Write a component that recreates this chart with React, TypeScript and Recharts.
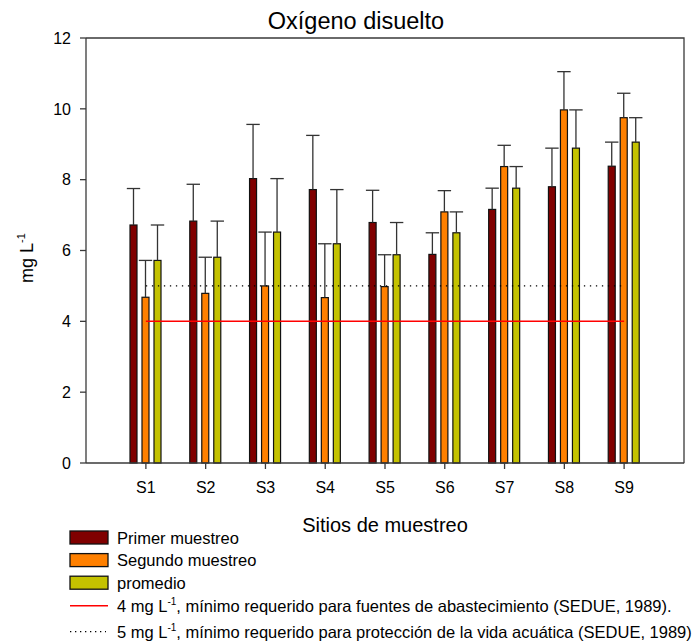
import { Bar, BarChart, ReferenceLine, XAxis, YAxis } from "recharts";

const sites = ["S1", "S2", "S3", "S4", "S5", "S6", "S7", "S8", "S9"];
const primer = [6.72, 6.83, 8.03, 7.72, 6.79, 5.89, 7.16, 7.8, 8.38];
const segundo = [4.68, 4.79, 5.0, 4.67, 4.98, 7.09, 8.37, 9.97, 9.75];
const promedio = [5.72, 5.81, 6.52, 6.19, 5.88, 6.5, 7.76, 8.89, 9.06];
const primerErr = [1.03, 1.04, 1.53, 1.53, 0.91, 0.61, 0.6, 1.09, 0.68];
const segundoErr = [1.04, 1.02, 1.52, 1.52, 0.9, 0.6, 0.6, 1.08, 0.69];
const promedioErr = [1.0, 1.02, 1.51, 1.53, 0.91, 0.59, 0.61, 1.08, 0.69];
const yTicks = [0, 2, 4, 6, 8, 10, 12];

const data = sites.map((site, i) => ({
  site,
  primer: primer[i],
  segundo: segundo[i],
  promedio: promedio[i],
  primerErr: primerErr[i],
  segundoErr: segundoErr[i],
  promedioErr: promedioErr[i],
}));

const FONT = "Arial, 'Liberation Sans', sans-serif";
const AXIS = "#3a3a3a";

// bar + upper error whisker, using the bar's own pixel scale
const barWithError = (key: string, errKey: string) => (props: any) => {
  const { x, y, width, height, fill, payload } = props;
  const v = payload[key];
  const perUnit = v ? height / v : 0;
  const top = y - payload[errKey] * perUnit;
  const cx = x + width / 2;
  return (
    <g>
      <rect x={x} y={y} width={width} height={height} fill={fill} stroke="#111" strokeWidth={1.2} />
      <line x1={cx} x2={cx} y1={y} y2={top} stroke="#333" strokeWidth={1.3} />
      <line x1={cx - 6.7} x2={cx + 6.7} y1={top} y2={top} stroke="#333" strokeWidth={1.3} />
    </g>
  );
};

const legendBars = [
  { label: "Primer muestreo", color: "#800000" },
  { label: "Segundo muestreo", color: "#ff8000" },
  { label: "promedio", color: "#c4c200" },
];

export default function App() {
  return (
    <div style={{ position: "absolute", left: 0, top: 0, width: 694, height: 644, background: "#fff" }}>
      <BarChart
        width={694}
        height={644}
        data={data}
        margin={{ top: 38, right: 10, left: 26, bottom: 151 }}
        barSize={7}
        barGap={5}
      >
        <XAxis
          dataKey="site"
          padding={{ left: 30, right: 30 }}
          height={30}
          tickSize={6}
          tickMargin={13}
          axisLine={{ stroke: AXIS, strokeWidth: 1.3 }}
          tickLine={{ stroke: AXIS, strokeWidth: 1.3 }}
          tick={{ fill: "#000", fontSize: 16, fontFamily: FONT }}
        />
        <YAxis
          domain={[0, 12]}
          ticks={yTicks}
          width={60}
          tickSize={6}
          tickMargin={9}
          axisLine={{ stroke: AXIS, strokeWidth: 1.3 }}
          tickLine={{ stroke: AXIS, strokeWidth: 1.3 }}
          tick={{ fill: "#000", fontSize: 16, fontFamily: FONT }}
        />
        <Bar dataKey="primer" fill="#800000" isAnimationActive={false} shape={barWithError("primer", "primerErr")} />
        <Bar dataKey="segundo" fill="#ff8000" isAnimationActive={false} shape={barWithError("segundo", "segundoErr")} />
        <Bar dataKey="promedio" fill="#c4c200" isAnimationActive={false} shape={barWithError("promedio", "promedioErr")} />
        <ReferenceLine
          segment={[
            { x: "S1", y: 4 },
            { x: "S9", y: 4 },
          ]}
          stroke="#ff0000"
          strokeWidth={1.5}
        />
        <ReferenceLine
          segment={[
            { x: "S1", y: 5 },
            { x: "S9", y: 5 },
          ]}
          stroke="#000"
          strokeWidth={1.3}
          strokeDasharray="1.3 4.7"
        />
      </BarChart>

      <svg
        width={694}
        height={644}
        style={{ position: "absolute", left: 0, top: 0, pointerEvents: "none" }}
        fontFamily={FONT}
      >
        {/* plot frame (top and right edges) */}
        <path d="M86,38 H684 V463.3" fill="none" stroke={AXIS} strokeWidth={1.3} />
        <text x={356} y={28.5} textAnchor="middle" fontSize={23.5} fill="#000">
          Oxígeno disuelto
        </text>
        <text x={385} y={532} textAnchor="middle" fontSize={20} fill="#000">
          Sitios de muestreo
        </text>
        <text transform="translate(33,258) rotate(-90)" textAnchor="middle" fontSize={18} fill="#000">
          mg L
          <tspan fontSize={11} dy={-8}>
            -1
          </tspan>
        </text>

        {legendBars.map((item, i) => {
          const cy = 537.5 + i * 22.6;
          return (
            <g key={item.label}>
              <rect x={70} y={cy - 6.5} width={38} height={13} fill={item.color} stroke="#111" strokeWidth={1.3} />
              <text x={117} y={cy} dominantBaseline="central" fontSize={16.5} fill="#000">
                {item.label}
              </text>
            </g>
          );
        })}
        <line x1={70} x2={108} y1={605.7} y2={605.7} stroke="#ff0000" strokeWidth={1.5} />
        <text x={117} y={611.5} fontSize={16.5} fill="#000">
          4 mg L<tspan fontSize={10} dy={-7}>-1</tspan>
          <tspan dy={7}>, mínimo requerido para fuentes de abastecimiento (SEDUE, 1989).</tspan>
        </text>
        <line x1={70} x2={106} y1={631.7} y2={631.7} stroke="#000" strokeWidth={1.3} strokeDasharray="1.3 3.7" />
        <text x={117} y={637.5} fontSize={16.5} fill="#000">
          5 mg L<tspan fontSize={10} dy={-7}>-1</tspan>
          <tspan dy={7}>, mínimo requerido para protección de la vida acuática (SEDUE, 1989)</tspan>
        </text>
      </svg>
    </div>
  );
}
